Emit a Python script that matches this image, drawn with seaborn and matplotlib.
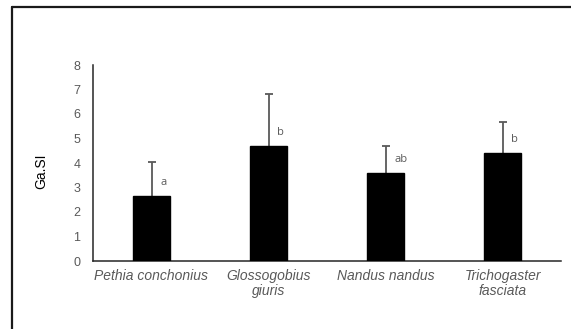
import matplotlib
matplotlib.use("Agg")
import matplotlib.pyplot as plt
import seaborn as sns
import pandas as pd
import numpy as np
from matplotlib.lines import Line2D

species = ["Pethia conchonius", "Glossogobius\ngiuris", "Nandus nandus", "Trichogaster\nfasciata"]
means = [2.67, 4.69, 3.58, 4.42]
errors = [1.38, 2.13, 1.11, 1.27]
letters = ["a", "b", "ab", "b"]
yticks = [0, 1, 2, 3, 4, 5, 6, 7, 8]

sns.set_theme(style="white")
plt.rcParams["font.family"] = ["Liberation Sans", "DejaVu Sans"]

df = pd.DataFrame({"species": species, "gasi": means})

fig = plt.figure(figsize=(5.71, 3.29), dpi=100)
ax = fig.add_axes([93/571, 1-261/329, (561-93)/571, (261-65)/329])

sns.barplot(data=df, x="species", y="gasi", color="black", width=0.32,
            errorbar=None, ax=ax, saturation=1)
for p in ax.patches:
    p.set_edgecolor("black")
    p.set_zorder(3)

xs = np.arange(len(species))
eb = ax.errorbar(xs, means, yerr=[np.zeros(len(errors)), errors], fmt="none",
                 ecolor="#595959", elinewidth=1.3, capsize=2.6, capthick=1.3, zorder=2)
# hide the lower caps (only the plus error is shown)
eb[1][0].set_visible(False)

for x, m, lab in zip(xs, means, letters):
    ax.annotate(lab, xy=(x, m), xytext=(9, 8), textcoords="offset pixels",
                ha="left", va="bottom", fontsize=8, color="#595959",
                family=["Open Sans", "DejaVu Sans"])

ax.set_xlim(-0.5, 3.5)
ax.set_ylim(0, 8)
ax.set_yticks(yticks)
ax.set_yticklabels([str(t) for t in yticks], fontsize=9, color="#595959")
ax.set_xticks(xs)
ax.set_xticklabels(species, fontsize=10, color="#595959", style="italic",
                   linespacing=1.1)
ax.tick_params(axis="y", length=0, pad=9)
ax.tick_params(axis="x", length=0, pad=6)
ax.set_xlabel("")
ax.set_ylabel("Ga.SI", fontsize=10, color="black")
ax.yaxis.set_label_coords(-0.096, 0.46)

for s in ["top", "right"]:
    ax.spines[s].set_visible(False)
for s in ["left", "bottom"]:
    ax.spines[s].set_visible(True)
    ax.spines[s].set_color("#262626")
    ax.spines[s].set_linewidth(1.1)
ax.patch.set_alpha(0)

# outer frame (top and left borders)
fig.add_artist(Line2D([12/571, 1.0], [1-7/329, 1-7/329], color="#1a1a1a", lw=1.6,
                      transform=fig.transFigure))
fig.add_artist(Line2D([12/571, 12/571], [1-7/329, 0.0], color="#1a1a1a", lw=1.6,
                      transform=fig.transFigure))

fig.savefig("out.png", dpi=100)
